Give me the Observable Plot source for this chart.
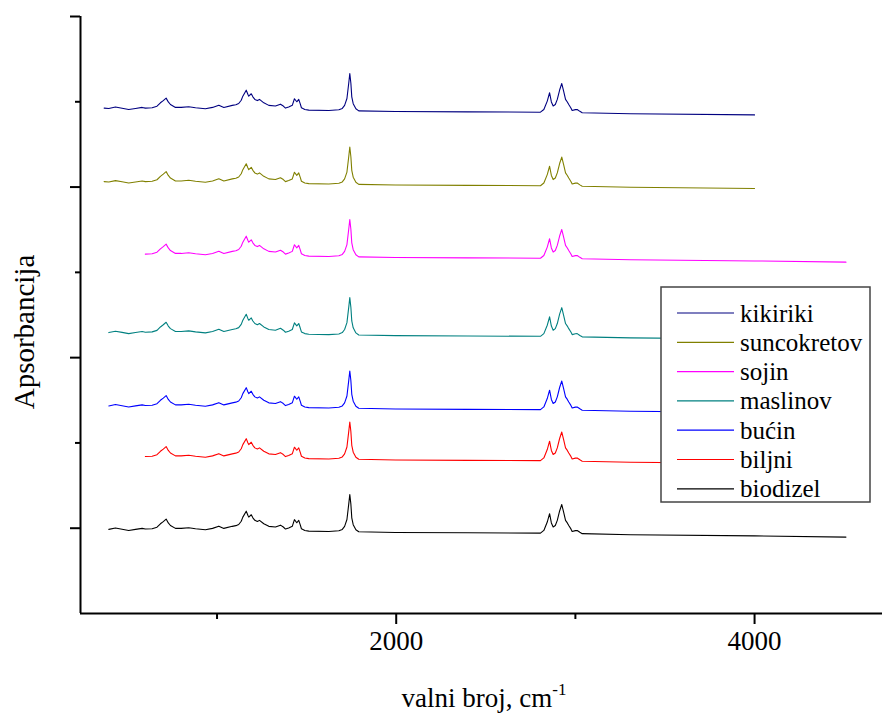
<!DOCTYPE html>
<html>
<head>
<meta charset="utf-8">
<script src="https://cdn.jsdelivr.net/npm/d3@7"></script>
<script src="https://cdn.jsdelivr.net/npm/@observablehq/plot@0.6"></script>
<style>
  html, body { margin: 0; padding: 0; background: #fff; }
  #chart { width: 882px; height: 715px; }
</style>
</head>
<body>
<div id="chart"></div>
<script>
// Series (top to bottom in the stack)
const seriesNames = ["kikiriki", "suncokretov", "sojin", "maslinov", "bućin", "biljni", "biodizel"];
const seriesColors = ["#000080", "#808000", "#ff00ff", "#008080", "#0000ff", "#ff0000", "#000000"];
// baseline offset of each stacked spectrum (absorbance units)
const seriesOffsets = [2.459, 2.028, 1.603, 1.145, 0.715, 0.416, -0.009];
// first and last wavenumber of each spectrum (cm-1)
const seriesStart = [370, 370, 600, 396, 396, 600, 396];
const seriesEnd = [4000, 4000, 4510, 4000, 4000, 4000, 4510];

// Spectrum profile (wavenumber, absorbance above baseline)
const wavenumbers = [370, 396, 433, 470, 507, 545, 582, 600, 638, 665, 684, 700, 716, 728, 740, 768, 800, 842, 880, 935,
  975, 1010, 1038, 1085, 1105, 1121, 1135, 1144, 1163, 1172, 1177, 1191, 1200, 1211, 1225, 1237, 1261, 1289, 1326, 1354,
  1370, 1382, 1400, 1420, 1432, 1445, 1456, 1464, 1471, 1490, 1512, 1624, 1680, 1699, 1712, 1725, 1735, 1741, 1747, 1752,
  1760, 1775, 1791, 1996, 2400, 2805, 2824, 2843, 2856, 2866, 2876, 2888, 2899, 2912, 2924, 2935, 2945, 2955, 2963, 2975,
  2982, 3000, 3010, 3025, 3038, 3308, 4000, 4510];
const absorbance = [0.004, 0.002, 0.010, 0.003, -0.004, 0.002, 0.008, 0.004, 0.006, 0.015, 0.035, 0.048, 0.0625, 0.040, 0.025, 0.008, 0.008, 0.012, 0.006, 0.000,
  0.008, 0.021, 0.008, 0.020, 0.024, 0.031, 0.050, 0.074, 0.109, 0.085, 0.074, 0.088, 0.070, 0.055, 0.048, 0.055, 0.035, 0.020, 0.016, 0.027,
  0.016, 0.004, 0.010, 0.020, 0.059, 0.041, 0.055, 0.030, 0.006, -0.004, -0.008, -0.010, -0.006, 0.002, 0.020, 0.060, 0.150, 0.207, 0.150, 0.070,
  0.030, 0.000, -0.012, -0.016, -0.018, -0.020, -0.004, 0.045, 0.094, 0.040, 0.016, 0.025, 0.055, 0.110, 0.148, 0.100, 0.055, 0.040, 0.025, 0.005,
  -0.010, -0.005, -0.004, -0.015, -0.023, -0.029, -0.036, -0.043];

// axis ticks
const xMajorTicks = [2000, 4000];
const xMinorTicks = [1000, 3000];
const yMajorTicks = [0, 1, 2, 3];
const yMinorTicks = [0.5, 1.5, 2.5];
const xDomain = [238, 4714];
const yDomain = [-0.5, 3];

const rows = [];
seriesNames.forEach((name, i) => {
  wavenumbers.forEach((w, j) => {
    if (w >= seriesStart[i] && w <= seriesEnd[i]) {
      rows.push({series: name, wn: w, a: absorbance[j] + seriesOffsets[i]});
    }
  });
});

const font = "Liberation Serif";

const plot = Plot.plot({
  width: 882,
  height: 715,
  marginLeft: 80,
  marginRight: 0,
  marginTop: 16,
  marginBottom: 102,
  x: {domain: xDomain, label: null},
  y: {domain: yDomain, label: null},
  color: {domain: seriesNames, range: seriesColors},
  marks: [
    Plot.line(rows, {x: "wn", y: "a", z: "series", stroke: "series", strokeWidth: 1.1}),
    Plot.ruleY([yDomain[0]], {stroke: "#000", strokeWidth: 2}),
    Plot.ruleX([xDomain[0]], {stroke: "#000", strokeWidth: 2}),
    Plot.axisX({ticks: xMajorTicks, tickSize: 11, tickPadding: 6, strokeWidth: 2, fontSize: 27, fontFamily: font, fill: "#000", tickFormat: d => String(d), label: null}),
    Plot.axisX({ticks: xMinorTicks, tickSize: 6, strokeWidth: 2, tickFormat: () => "", label: null}),
    Plot.axisY({ticks: yMajorTicks, tickSize: 10, strokeWidth: 2, tickFormat: () => "", label: null}),
    Plot.axisY({ticks: yMinorTicks, tickSize: 5, strokeWidth: 2, tickFormat: () => "", label: null})
  ]
});

document.getElementById("chart").appendChild(plot);

const svg = d3.select(plot);

// x axis title with superscript
const xt = svg.append("text")
  .attr("x", 484).attr("y", 707)
  .attr("text-anchor", "middle").attr("font-family", font)
  .attr("font-size", 27).attr("fill", "#000");
xt.append("tspan").text("valni broj, cm");
xt.append("tspan").attr("dy", -12).attr("font-size", 17).text("-1");

// y axis title
svg.append("text")
  .attr("transform", "translate(34,332) rotate(-90)")
  .attr("text-anchor", "middle").attr("font-family", font)
  .attr("font-size", 29).attr("fill", "#000")
  .text("Apsorbancija");

// legend
const lg = svg.append("g");
lg.append("rect").attr("x", 661).attr("y", 287).attr("width", 209).attr("height", 215)
  .attr("fill", "#fff").attr("stroke", "#444").attr("stroke-width", 1.5);
seriesNames.forEach((name, i) => {
  const y = 313 + i * 29.3;
  lg.append("line").attr("x1", 677).attr("x2", 734).attr("y1", y).attr("y2", y)
    .attr("stroke", seriesColors[i]).attr("stroke-width", 1.2);
  lg.append("text").attr("x", 740).attr("y", y + 8.5)
    .attr("text-anchor", "start").attr("font-family", font)
    .attr("font-size", 25).attr("fill", "#000").text(name);
});
</script>
</body>
</html>
